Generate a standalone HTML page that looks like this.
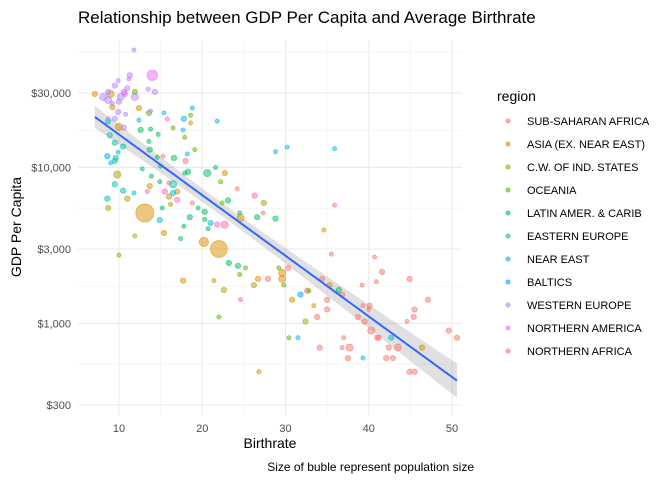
<!DOCTYPE html>
<html><head><meta charset="utf-8"><style>
body{margin:0;background:#fff;}
svg{display:block;font-family:"Liberation Sans",sans-serif;}
</style></head><body>
<svg id="chart" width="672" height="480" xmlns="http://www.w3.org/2000/svg">
<text x="78" y="23" font-size="17" fill="#000">Relationship between GDP Per Capita and Average Birthrate</text>
<g id="grid"></g>
<g id="band"></g>
<g id="points"></g>
<g id="axes"></g>
<text x="270" y="448" font-size="14" text-anchor="middle" fill="#000">Birthrate</text>
<text x="21" y="227" font-size="14" text-anchor="middle" fill="#000" transform="rotate(-90 21 227)">GDP Per Capita</text>
<text x="474" y="471" font-size="12" text-anchor="end" fill="#000">Size of buble represent population size</text>
<g id="legend"></g>
</svg>
<script>
const regions=["SUB-SAHARAN AFRICA","ASIA (EX. NEAR EAST)","C.W. OF IND. STATES","OCEANIA","LATIN AMER. & CARIB","EASTERN EUROPE","NEAR EAST","BALTICS","WESTERN EUROPE","NORTHERN AMERICA","NORTHERN AFRICA"];
const xTicks=[10,20,30,40,50];
const yTicks=[300,1000,3000,10000,30000];
const yTickLabels=["$300","$1,000","$3,000","$10,000","$30,000"];

const ssBirth=[16.0,15.3,18.0,24.2,18.8,27.3,24.6,27.9,30.3,32.6,33.8,35.0,35.0,35.9,35.5,34.4,36.8,39.2,40.7,41.6,40.9,44.9,47.1,45.5,45.4,44.6,49.6,50.6,39.3,40.1,40.0,38.7,39.5,40.3,41.0,41.2,42.4,43.5,37.0,36.8,37.7,34.1,37.5,42.1,42.9,44.9,45.5];
const ssGdp=[7960,11800,11000,7300,5920,5110,1420,1930,2270,1620,1100,1230,1420,5730,2780,1930,1530,1760,2660,2140,1850,1930,1420,1230,1100,1030,900,810,1300,1300,1230,1100,1030,900,810,810,700,700,810,700,700,700,600,600,600,490,490];
const ssPop=[2,2,20,2,2,2,2,20,20,20,20,20,20,2,2,20,20,2,2,20,2,20,20,20,20,2,20,20,2,20,2,20,20,80,20,20,20,80,2,2,80,20,20,20,20,20,20];

const asBirth=[7.1,9.0,9.2,12.4,10.0,18.6,13.7,22.7,17.0,13.1,15.4,24.6,20.2,22.0,17.7,21.4,26.7,29.6,29.6,30.8,33.4,26.8,34.6,35.3,46.4];
const asGdp=[29600,29600,24400,24000,18200,19300,7600,9200,7000,5110,3800,4750,3330,3000,1880,1880,1930,2110,1930,1420,1300,490,3970,1760,700];
const asPop=[20,80,20,20,80,2,20,20,20,1300,20,80,200,1100,20,2,20,80,80,20,2,2,2,20,20];

const cwBirth=[9.8,11.0,8.7,16.0,16.2,11.9,27.4,26.2,22.6,32.4,10.0];
const cwGdp=[9000,6300,5500,6500,5800,3640,5920,1760,1640,1030,2740];
const cwPop=[80,20,20,20,2,2,20,20,20,20,2];

const ocBirth=[11.9,13.6,16.5,17.9,18.6,19.1,22.2,22.4,25.2,24.5,29.2,29.8,22.0,30.4,32.8];
const ocGdp=[30500,22350,17900,15600,21600,13000,8100,5920,2270,2060,2270,1760,1100,810,1620];
const ocPop=[20,20,2,2,2,2,2,2,2,2,2,2,2,2,2];

const laBirth=[12.6,13.8,14.7,13.6,13.7,14.6,16.6,12.8,15.0,13.9,14.9,17.9,18.3,20.6,21.6,15.2,19.5,20.3,18.5,17.8,17.4,26.6,24.5,23.1,20.7,20.3,28.8,23.2,24.3,36.4];
const laGdp=[17400,17600,16300,14700,13000,11600,11500,9800,10200,8800,8100,9200,9400,9200,10000,5500,5500,5200,4800,4200,3500,4800,5110,6150,4050,4650,4700,2440,2340,1640];
const laPop=[20,2,2,2,20,2,20,2,2,2,2,2,20,80,2,2,2,20,20,2,2,20,2,20,2,2,20,20,20,20];

const eeBirth=[8.7,8.9,9.5,10.5,9.6,9.5,9.5,10.5,8.6,16.5];
const eeGdp=[19800,16100,14400,13600,11500,11000,7800,7100,6300,7800];
const eePop=[20,20,20,20,20,20,20,20,20,80];

const neBirth=[15.4,12.4,17.8,18.8,17.7,21.8,9.9,9.0,18.2,11.8,16.5,14.9,21.0,31.5,42.7,39.3,35.9,28.8,30.2];
const neGdp=[22350,20100,20500,24000,17400,19800,12500,10700,12200,6860,6860,4600,4410,810,810,600,13200,12600,13500];
const nePop=[2,2,20,2,2,2,2,2,2,2,20,20,20,2,20,2,2,2,2];

const baBirth=[8.6,31.8];
const baGdp=[11800,1530];
const baPop=[20,20];

const weBirth=[11.8,11.3,9.9,9.5,11.0,8.7,8.1,8.7,10.2,10.7,10.0,11.9,14.3,13.5,9.2,9.9,10.8,9.5,10.6,8.7,13.8];
const weGdp=[56600,39000,36000,33500,32200,30500,28300,27100,28300,29600,26400,28300,30500,31700,25700,22700,21900,20500,18000,20500,23000];
const wePop=[2,20,2,20,20,20,80,80,80,20,20,80,20,2,2,20,2,20,20,2,2];

const naBirth=[14.0,11.2,10.6];
const naGdp=[39000,37000,30400];
const naPop=[300,2,33];

const nfBirth=[15.8,13.4,15.5,17.0,26.3,21.8,22.7];
const nfGdp=[20500,7000,7000,6200,6600,4300,4300];
const nfPop=[2,2,20,20,20,20,80];

const colors=["#F8766D","#DB8E00","#AEA200","#64B200","#00BD5C","#00C1A7","#00BADE","#00A6FF","#B385FF","#EF67EB","#FF63B6"];
const groups=[[ssBirth,ssGdp,ssPop],[asBirth,asGdp,asPop],[cwBirth,cwGdp,cwPop],[ocBirth,ocGdp,ocPop],[laBirth,laGdp,laPop],[eeBirth,eeGdp,eePop],[neBirth,neGdp,nePop],[baBirth,baGdp,baPop],[weBirth,weGdp,wePop],[naBirth,naGdp,naPop],[nfBirth,nfGdp,nfPop]];

const NS="http://www.w3.org/2000/svg";
const PL=78,PR=462,PT=40,PB=415;
const xMin=5.08,xMax=51.2,yMinL=2.413,yMaxL=4.817;
const xs=v=>PL+(v-xMin)/(xMax-xMin)*(PR-PL);
const ys=v=>PB-(Math.log10(v)-yMinL)/(yMaxL-yMinL)*(PB-PT);
const ysL=l=>PB-(l-yMinL)/(yMaxL-yMinL)*(PB-PT);
const rs=p=>1.8+0.2*Math.sqrt(p);
function mk(tag,attrs,parent){const e=document.createElementNS(NS,tag);for(const k in attrs)e.setAttribute(k,attrs[k]);parent.appendChild(e);return e;}

const grid=document.getElementById('grid');
[15,25,35,45].forEach(v=>{const x=xs(v);const l=mk('line',{x1:x,x2:x,y1:PT,y2:PB,stroke:'#F0F0F0','stroke-width':0.6},grid);

});
for(let i=0;i<yTicks.length-1;i++){const m=(Math.log10(yTicks[i])+Math.log10(yTicks[i+1]))/2;const y=ysL(m);const l=mk('line',{x1:PL,x2:PR,y1:y,y2:y,stroke:'#F0F0F0','stroke-width':0.6},grid);

}
const yTop=ysL((Math.log10(30000)+Math.log10(100000))/2);
if(yTop>PT){const l=mk('line',{x1:PL,x2:PR,y1:yTop,y2:yTop,stroke:'#F0F0F0','stroke-width':0.6},grid);

}
const axes=document.getElementById('axes');
xTicks.forEach(v=>{const x=xs(v);const l=mk('line',{x1:x,x2:x,y1:PT,y2:PB,stroke:'#EBEBEB','stroke-width':1.1},grid);


const t=mk('text',{x:x,y:PB+17,'font-size':11,'text-anchor':'middle',fill:'#4D4D4D'},axes);t.textContent=v;

});
yTicks.forEach((v,i)=>{const y=ys(v);const l=mk('line',{x1:PL,x2:PR,y1:y,y2:y,stroke:'#EBEBEB','stroke-width':1.1},grid);


const t=mk('text',{x:71,y:y+4,'font-size':11,'text-anchor':'end',fill:'#4D4D4D'},axes);t.textContent=yTickLabels[i];

});

let X=[],Y=[];groups.forEach(g=>{g[0].forEach((b,i)=>{X.push(b);Y.push(Math.log10(g[1][i]));});});
const n=X.length,mx=X.reduce((a,b)=>a+b)/n,my=Y.reduce((a,b)=>a+b)/n;
let sxx=0,sxy=0;for(let i=0;i<n;i++){sxx+=(X[i]-mx)**2;sxy+=(X[i]-mx)*(Y[i]-my);}
const slope=sxy/sxx,icpt=my-slope*mx;let sse=0;for(let i=0;i<n;i++)sse+=(Y[i]-icpt-slope*X[i])**2;
const s=Math.sqrt(sse/(n-2));
const x0=Math.min(...X),x1=Math.max(...X);
let up=[],lo=[],mid=[];
for(let k=0;k<=80;k++){const x=x0+(x1-x0)*k/80;const f=icpt+slope*x;const se=1.97*s*Math.sqrt(1/n+(x-mx)**2/sxx);
up.push(xs(x)+','+ysL(f+se));lo.unshift(xs(x)+','+ysL(f-se));mid.push(xs(x)+','+ysL(f));}
const band=document.getElementById('band');
const bp=mk('polygon',{points:up.concat(lo).join(' '),fill:'#999',opacity:0.3},band);



const pts=document.getElementById('points');
groups.forEach((g,ri)=>{g[0].forEach((b,i)=>{const c=mk('circle',{cx:xs(b),cy:ys(g[1][i]),r:rs(g[2][i]),fill:colors[ri],'fill-opacity':0.5,stroke:colors[ri],'stroke-opacity':0.6,'stroke-width':0.8},pts);

});});

const line=mk('polyline',{points:mid.join(' '),fill:'none',stroke:'#3366FF','stroke-width':2},band.parentNode);



const leg=document.getElementById('legend');
const lt=mk('text',{x:497,y:101,'font-size':14,fill:'#000'},leg);lt.textContent='region';


regions.forEach((r,i)=>{const y=121+i*23;
const d=mk('circle',{cx:508,cy:y,r:2.2,fill:colors[i],'fill-opacity':0.6,stroke:colors[i],'stroke-opacity':0.7,'stroke-width':0.6},leg);


const t=mk('text',{x:527,y:y+4,'font-size':11,fill:'#000'},leg);t.textContent=r;

});
</script>
</body></html>
